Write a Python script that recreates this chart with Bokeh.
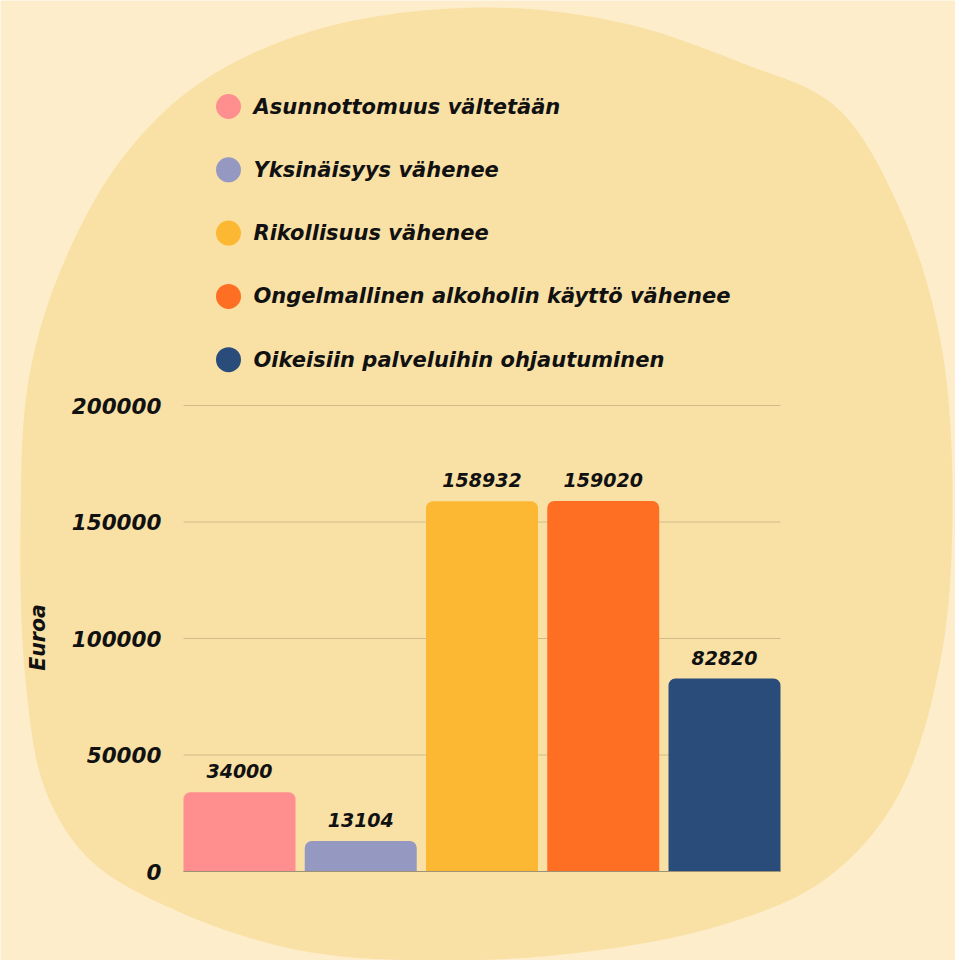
import numpy as np
from bokeh.plotting import figure
from bokeh.models import Range1d, ColumnDataSource
from bokeh.core.properties import value
from bokeh.embed import file_html
from bokeh.resources import INLINE

# ---------------- data ----------------
categories = ["Asunnottomuus vältetään", "Yksinäisyys vähenee", "Rikollisuus vähenee",
              "Ongelmallinen alkoholin käyttö vähenee", "Oikeisiin palveluihin ohjautuminen"]
values = [34000, 13104, 158932, 159020, 82820]
colors = ["#FF8E8F", "#9599C1", "#FDB833", "#FF6F23", "#2A4C7A"]
y_ticks = [0, 50000, 100000, 150000, 200000]
y_tick_labels = ["0", "50000", "100000", "150000", "200000"]
y_axis_label = "Euroa"

# ---------------- layout ----------------
W, H = 955, 960
BG = "#FDEDCA"
BLOB = "#F9E1A6"
FONT = value("DejaVu Sans")

p = figure(width=W, height=H, output_backend="svg", toolbar_location=None,
           x_range=Range1d(0, W), y_range=Range1d(H, 0),
           x_axis_type=None, y_axis_type=None, min_border=0)
p.outline_line_color = None
p.grid.visible = False
p.background_fill_color = BG
p.border_fill_color = BG

# plot-area geometry (pixels)
band = 121.25
first_center = 239.0
zero_from_bottom = H - 871.0
px_per_200k = 466.0
p.extra_x_ranges["cat"] = Range1d(-first_center / band, (W - first_center) / band)
p.extra_y_ranges["val"] = Range1d(-zero_from_bottom / px_per_200k * 200000,
                                  (H - zero_from_bottom) / px_per_200k * 200000)

# ---------------- background blob (decorative shape) ----------------
ctrl = np.array([
    (480, 7), (620, 22), (740, 62), (835, 106), (900, 210), (940, 340), (952, 500),
    (940, 660), (895, 800), (823, 880), (720, 925), (580, 952), (430, 960),
    (300, 950), (180, 912), (90, 860), (45, 790), (25, 680), (20, 520), (28, 380),
    (60, 270), (120, 160), (200, 82), (320, 28)], dtype=float)


def centripetal(P0, P1, P2, P3, m=14, alpha=0.5):
    def tj(ti, a, b):
        return ti + np.linalg.norm(b - a) ** alpha
    t0 = 0.0
    t1 = tj(t0, P0, P1)
    t2 = tj(t1, P1, P2)
    t3 = tj(t2, P2, P3)
    out = []
    for t in np.linspace(t1, t2, m, endpoint=False):
        A1 = (t1 - t) / (t1 - t0) * P0 + (t - t0) / (t1 - t0) * P1
        A2 = (t2 - t) / (t2 - t1) * P1 + (t - t1) / (t2 - t1) * P2
        A3 = (t3 - t) / (t3 - t2) * P2 + (t - t2) / (t3 - t2) * P3
        B1 = (t2 - t) / (t2 - t0) * A1 + (t - t0) / (t2 - t0) * A2
        B2 = (t3 - t) / (t3 - t1) * A2 + (t - t1) / (t3 - t1) * A3
        out.append((t2 - t) / (t2 - t1) * B1 + (t - t1) / (t2 - t1) * B2)
    return out


n = len(ctrl)
pts = []
for i in range(n):
    pts += centripetal(ctrl[(i - 1) % n], ctrl[i], ctrl[(i + 1) % n], ctrl[(i + 2) % n])
pts = np.array(pts)
p.patch(pts[:, 0], pts[:, 1], fill_color=BLOB, line_color=None)

# ---------------- grid lines ----------------
grid_left, grid_right = 183, 780
p.segment(x0=[grid_left] * len(y_ticks), x1=[grid_right] * len(y_ticks),
          y0=y_ticks, y1=y_ticks, y_range_name="val",
          line_color="#D2BA8A", line_width=1)

# ---------------- bars ----------------
src = ColumnDataSource(dict(x=list(range(len(values))), top=values, color=colors,
                            label=[str(v) for v in values]))
p.vbar(x="x", top="top", bottom=0, width=112 / band, source=src,
       x_range_name="cat", y_range_name="val",
       fill_color="color", line_color=None, border_radius=(7, 7, 0, 0))
p.segment(x0=[grid_left], x1=[grid_right], y0=[0], y1=[0], y_range_name="val",
          line_color="#9E9274", line_width=1)

# value labels
p.text(x="x", y="top", text="label", source=src, x_range_name="cat", y_range_name="val",
       text_align="center", text_baseline="bottom", y_offset=-14,
       text_font=FONT, text_font_style="bold italic", text_font_size="19px",
       text_color="#111111")

# ---------------- y tick labels ----------------
p.text(x=[161] * len(y_ticks), y=y_ticks, text=y_tick_labels, y_range_name="val",
       text_align="right", text_baseline="middle",
       text_font=FONT, text_font_style="bold italic", text_font_size="21.5px",
       text_color="#111111")

# axis title
p.text(x=[37], y=[637], text=[y_axis_label], angle=np.pi / 2,
       text_align="center", text_baseline="middle",
       text_font=FONT, text_font_style="bold italic", text_font_size="20.5px",
       text_color="#111111")

# ---------------- legend ----------------
leg_y = [106 + 63.3 * i for i in range(len(categories))]
p.scatter(x=[228] * len(categories), y=leg_y, size=25, color=colors, line_color=None)
p.text(x=[253] * len(categories), y=leg_y, text=categories,
       text_align="left", text_baseline="middle",
       text_font=FONT, text_font_style="bold italic", text_font_size="21px",
       text_color="#111111")

open("out.html", "w").write(file_html(p, INLINE))
